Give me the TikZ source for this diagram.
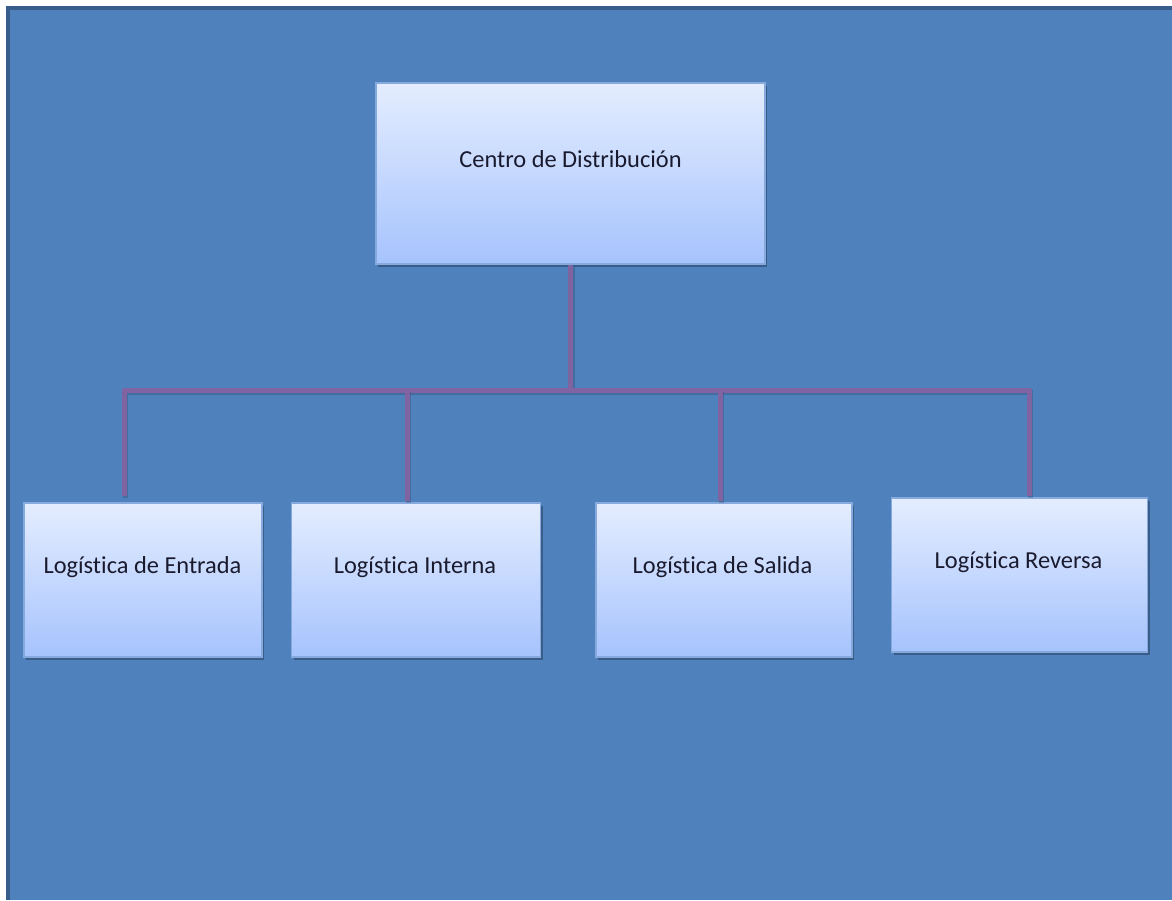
\documentclass[tikz,border=0pt]{standalone}
\usepackage{fontspec}
\setmainfont{Carlito}[Ligatures={NoCommon}]
\usetikzlibrary{shadows}

\definecolor{pagebg}{HTML}{4F81BD}
\definecolor{pageedge}{HTML}{385D8A}
\definecolor{linkcol}{HTML}{8064A2}
\definecolor{boxtop}{HTML}{E4EDFF}
\definecolor{boxbot}{HTML}{A6C3FD}
\definecolor{boxedge}{HTML}{86A9DE}
\definecolor{txtcol}{HTML}{1A1A2E}

\tikzset{
  unitbox/.style={
    rectangle, inner sep=0pt, draw=boxedge, line width=1.2pt,
    top color=boxtop, bottom color=boxbot,
    drop shadow={shadow xshift=2pt, shadow yshift=-3pt, fill=black, opacity=0.28}
  },
  lbl/.style={anchor=base, inner sep=0pt, text=txtcol, font=\fontsize{24.4}{28}\selectfont},
  link/.style={draw=linkcol, line width=5pt,
    preaction={draw=black, opacity=0.15, line width=5pt,
      transform canvas={xshift=1.5pt, yshift=-2pt}}}
}

\begin{document}
\begin{tikzpicture}[x=1pt,y=-1pt]
  % page and frame
  \useasboundingbox (0,0) rectangle (1172,900);
  \fill[white] (0,0) rectangle (1172,900);
  \fill[pageedge] (6,6) rectangle (1172,900);
  \fill[pagebg] (10,10) rectangle (1172,900);

  % boxes
  \node[unitbox, minimum width=389pt, minimum height=181pt] (c) at (570.5,173.5) {};
  \node[unitbox, minimum width=238pt, minimum height=154pt] (b1) at (143,580) {};
  \node[unitbox, minimum width=249pt, minimum height=154pt] (b2) at (416,580) {};
  \node[unitbox, minimum width=256pt, minimum height=154pt] (b3) at (724,580) {};
  \node[unitbox, minimum width=256pt, minimum height=154pt] (b4) at (1019.5,575) {};

  % labels
  \node[lbl] (tc) at ([yshift=-85pt]c.north) {Centro de Distribución};
  \node[lbl] (t1) at ([xshift=-0.5pt,yshift=-71pt]b1.north) {Logística de Entrada};
  \node[lbl] (t2) at ([xshift=-1pt,yshift=-71pt]b2.north) {Logística Interna};
  \node[lbl] (t3) at ([xshift=-1.5pt,yshift=-71pt]b3.north) {Logística de Salida};
  \node[lbl] (t4) at ([xshift=-1pt,yshift=-71pt]b4.north) {Logística Reversa};

  % connectors
  \coordinate (hub) at (570.5,390);
  \coordinate (k1) at ([xshift=-19pt]b1.north);
  \coordinate (k2) at ([xshift=-9pt]b2.north);
  \coordinate (k3) at ([xshift=-4pt]b3.north);
  \coordinate (k4) at ([xshift=9.5pt]b4.north);
  \draw[link] (c.south) -- (hub);
  \draw[link, line join=round] ([yshift=6pt]k1) |- (hub) -| ([yshift=1pt]k4);
  \draw[link] (k2 |- hub) -- ([yshift=1pt]k2);
  \draw[link] (k3 |- hub) -- ([yshift=1pt]k3);
\end{tikzpicture}
\end{document}
